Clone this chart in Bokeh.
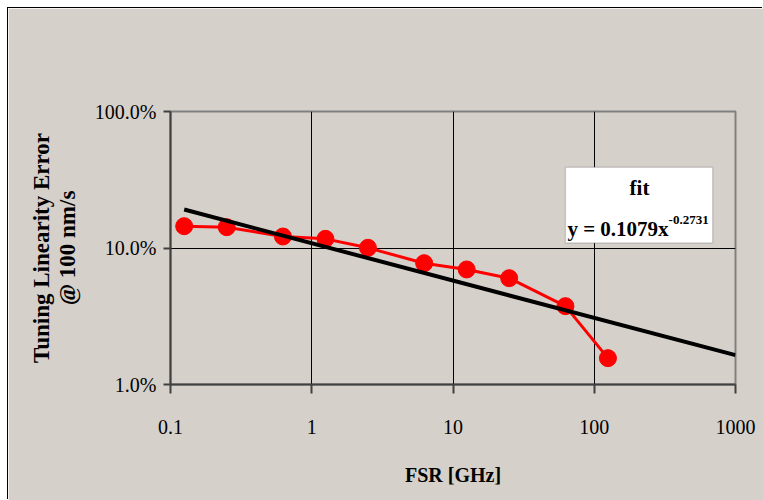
from bokeh.plotting import figure
from bokeh.models import (FixedTicker, NumeralTickFormatter, BoxAnnotation, Label,
                          ColumnDataSource, LogAxis)
from bokeh.embed import file_html
from bokeh.resources import INLINE

# ---- data ----
fsr_ghz = [0.125, 0.25, 0.625, 1.25, 2.5, 6.25, 12.5, 25, 62.5, 125]
tuning_error = [0.1445, 0.142, 0.1214, 0.1167, 0.1003, 0.0774, 0.0696, 0.0601, 0.0375, 0.0156]
fit_x = [0.125, 1000]
fit_y = [0.1914, 0.0164]
x_ticks = [0.1, 1, 10, 100, 1000]
x_tick_labels = ["0.1", "1", "10", "100", "1000"]
y_ticks = [0.01, 0.1, 1.0]
y_tick_labels = ["1.0%", "10.0%", "100.0%"]
x_title = "FSR [GHz]"
y_title_lines = ["Tuning Linearity Error", "@ 100 nm/s"]
fit_title = "fit"
fit_equation = "y = 0.1079x"
fit_exponent = "-0.2731"

BG = "#d6d0ca"
FONT = "Liberation Serif"

p = figure(width=755, height=492, x_axis_type="log", y_axis_type="log",
           x_range=(0.1, 1000), y_range=(0.01, 1.0),
           output_backend="svg", toolbar_location=None,
           min_border_left=162, min_border_right=28,
           min_border_top=103, min_border_bottom=116)
p.margin = (8, 0, 0, 8)
p.styles = {"box-shadow": "-1px -1px 0 0 #000000"}
p.background_fill_color = BG
p.border_fill_color = BG
p.outline_line_color = "#808080"
p.outline_line_width = 2

p.xaxis.ticker = FixedTicker(ticks=x_ticks, minor_ticks=[])
p.yaxis.ticker = FixedTicker(ticks=y_ticks, minor_ticks=[])
p.xaxis.formatter = NumeralTickFormatter(format="0.[0]")
p.yaxis.formatter = NumeralTickFormatter(format="0.0%")
p.xaxis.major_label_overrides = {t: l for t, l in zip(x_ticks, x_tick_labels)}
p.yaxis.major_label_overrides = {t: l for t, l in zip(y_ticks, y_tick_labels)}

for ax in (p.xaxis, p.yaxis):
    ax.axis_line_color = "#404040"
    ax.axis_line_width = 2
    ax.major_tick_line_color = "#404040"
    ax.major_tick_line_width = 2
    ax.major_tick_in = 0
    ax.minor_tick_line_color = None
    ax.major_label_text_font = FONT
    ax.major_label_text_font_size = "20px"
    ax.major_label_text_color = "#000000"
    ax.axis_label_text_font = FONT
    ax.axis_label_text_font_style = "bold"
    ax.axis_label_text_color = "#000000"

p.xaxis.axis_label_text_font_size = "20px"
p.yaxis.axis_label_text_font_size = "23px"
p.xaxis.major_tick_out = 9
p.yaxis.major_tick_out = 7
p.xaxis.major_label_standoff = 26
p.yaxis.major_label_standoff = 7
p.xaxis.axis_label = x_title
p.xaxis.axis_label_standoff = 27

# y title: second line on the main axis, first line on an outer label-only axis
p.yaxis.axis_label = y_title_lines[1]
p.yaxis.axis_label_standoff = 12

outer = LogAxis(ticker=FixedTicker(ticks=[], minor_ticks=[]),
                axis_label=y_title_lines[0],
                axis_line_color=None, major_tick_line_color=None, minor_tick_line_color=None,
                major_tick_out=0, major_tick_in=0, major_label_standoff=0,
                major_label_text_font_size="0px",
                axis_label_standoff=-2,
                axis_label_text_font=FONT, axis_label_text_font_style="bold",
                axis_label_text_font_size="23px", axis_label_text_color="#000000")
p.add_layout(outer, "left")

p.grid.grid_line_color = "#000000"
p.grid.grid_line_width = 1
p.grid.grid_line_alpha = 1.0

src = ColumnDataSource(dict(x=fsr_ghz, y=tuning_error))
p.line("x", "y", source=src, line_color="#ff0000", line_width=3)
p.scatter("x", "y", source=src, size=17, fill_color="#ff0000", line_color="#ff0000")

fit_src = ColumnDataSource(dict(x=fit_x, y=fit_y))
p.line("x", "y", source=fit_src, line_color="#000000", line_width=4)

# fit annotation box
box = BoxAnnotation(left=62.5, right=690, top=0.391, bottom=0.109,
                    fill_color="#ffffff", fill_alpha=1.0,
                    line_color="#707070", line_width=1.5, level="overlay")
p.add_layout(box)

p.add_layout(Label(x=209, y=0.273, text=fit_title, text_align="center", text_baseline="middle",
                   text_font=FONT, text_font_style="bold", text_font_size="21px",
                   text_color="#000000", level="overlay"))
p.add_layout(Label(x=336, y=0.1367, text=fit_equation, text_align="right", text_baseline="alphabetic",
                   text_font=FONT, text_font_style="bold", text_font_size="21px",
                   text_color="#000000", level="overlay"))
p.add_layout(Label(x=336, y=0.1617, text=fit_exponent, text_align="left", text_baseline="alphabetic",
                   text_font=FONT, text_font_style="bold", text_font_size="13px",
                   text_color="#000000", level="overlay"))

open("out.html", "w").write(file_html(p, INLINE))
